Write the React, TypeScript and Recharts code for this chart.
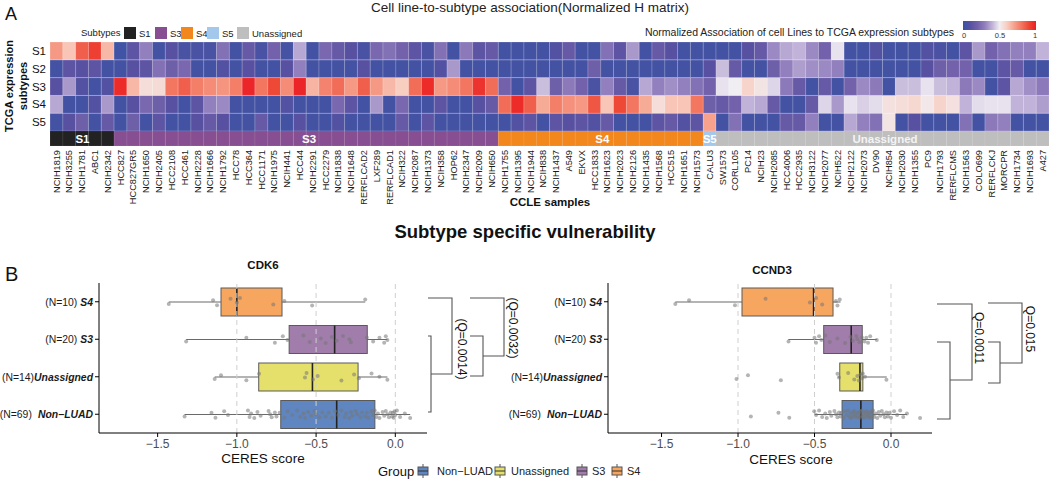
import React from 'react';
import {
  BarChart, Bar, Cell, XAxis, YAxis, ComposedChart, Scatter, ReferenceLine, LabelList,
} from 'recharts';

const FONT = '"Liberation Sans", Arial, Helvetica, sans-serif';

// ---------------- Heatmap data ----------------
const cellLines = [
  'NCIH1819', 'NCIH3255', 'NCIH1781', 'ABC1', 'NCIH2342',
  'HCC827', 'HCC827GR5', 'NCIH1650', 'NCIH2405', 'HCC2108', 'HCC461', 'NCIH2228', 'NCIH1666', 'NCIH1792', 'HCC78',
  'HCC364', 'HCC1171', 'NCIH1975', 'NCIH441', 'HCC44', 'NCIH2291', 'HCC2279', 'NCIH1838', 'NCIH1648', 'RERFLCAD2',
  'LXF289', 'RERFLCAD1', 'NCIH322', 'NCIH2087', 'NCIH1373', 'NCIH358', 'HOP62', 'NCIH2347', 'NCIH2009', 'NCIH650',
  'NCIH1755', 'NCIH1395', 'NCIH1944', 'NCIH838', 'NCIH1437', 'A549', 'EKVX', 'HCC1833', 'NCIH1623', 'NCIH2023',
  'NCIH2126', 'NCIH1435', 'NCIH1568', 'HCC515', 'NCIH1651', 'NCIH1573',
  'CALU3',
  'SW1573', 'CORL105', 'PC14', 'NCIH23', 'NCIH2085', 'HCC4006', 'HCC2935', 'NCIH3122', 'NCIH2077', 'NCIH522',
  'NCIH2122', 'NCIH2073', 'DV90', 'NCIH854', 'NCIH2030', 'NCIH1355', 'PC9', 'NCIH1793', 'RERFLCMS', 'NCIH1563',
  'COLO699', 'RERFLCKJ', 'MORCPR', 'NCIH1734', 'NCIH1693', 'A427',
];

const annoGroups = ['S1', 'S3', 'S4', 'S5', 'Unassigned'];
const annoCounts = [5, 30, 16, 1, 26];
const annoColors = ['#222222', '#874F91', '#F2871E', '#A3C8EB', '#BEBEBE'];

const rowLabels = ['S1', 'S2', 'S3', 'S4', 'S5'];

const hS1 = [
  0.72, 0.62, 0.85, 0.92, 0.65,
  0.02, 0.12, 0.30, 0.03, 0.10, 0.05, 0.05, 0.05, 0.25, 0.03,
  0.15, 0.05, 0.20, 0.04, 0.38, 0.03, 0.22, 0.15, 0.10, 0.05,
  0.22, 0.25, 0.20, 0.12, 0.05, 0.25, 0.03, 0.28, 0.12, 0.15,
  0.03, 0.03, 0.03, 0.03, 0.08, 0.15, 0.03, 0.03, 0.25, 0.12, 0.35, 0.03, 0.15, 0.10, 0.03, 0.03,
  0.03,
  0.03, 0.03, 0.10, 0.15, 0.32, 0.38, 0.40, 0.32, 0.20, 0.48,
  0.03, 0.03, 0.08, 0.03, 0.03, 0.03, 0.08, 0.06, 0.03, 0.12,
  0.35, 0.20, 0.25, 0.30, 0.30, 0.40,
];
const hS2 = [
  0.03, 0.12, 0.10, 0.12, 0.03,
  0.03, 0.10, 0.12, 0.25, 0.18, 0.22, 0.03, 0.03, 0.08, 0.03,
  0.10, 0.03, 0.03, 0.10, 0.30, 0.03, 0.03, 0.03, 0.03, 0.10,
  0.03, 0.03, 0.03, 0.03, 0.03, 0.08, 0.35, 0.03, 0.03, 0.03,
  0.03, 0.03, 0.03, 0.03, 0.03, 0.03, 0.03, 0.18, 0.03, 0.03, 0.03, 0.03, 0.03, 0.03, 0.03, 0.03,
  0.10,
  0.42, 0.15, 0.03, 0.03, 0.18, 0.30, 0.36, 0.33, 0.32, 0.30,
  0.03, 0.03, 0.03, 0.03, 0.03, 0.03, 0.10, 0.18, 0.20, 0.20,
  0.03, 0.03, 0.12, 0.15, 0.03, 0.03,
];
const hS3 = [
  0.10, 0.35, 0.08, 0.03, 0.08,
  0.97, 0.65, 0.55, 0.56, 0.80, 0.85, 0.78, 0.75, 0.73, 0.78,
  0.98, 0.80, 0.90, 0.75, 0.98, 0.66, 0.77, 0.82, 0.72, 0.85,
  0.72, 0.65, 0.60, 0.82, 0.97, 0.72, 0.75, 0.80, 0.95, 0.82,
  0.20, 0.03, 0.12, 0.42, 0.18, 0.28, 0.20, 0.05, 0.30, 0.15, 0.05, 0.38, 0.30, 0.33, 0.30, 0.25,
  0.20,
  0.48, 0.50, 0.58, 0.53, 0.46, 0.28, 0.15, 0.03, 0.15, 0.03,
  0.20, 0.32, 0.28, 0.03, 0.42, 0.42, 0.48, 0.42, 0.40, 0.28,
  0.32, 0.03, 0.12, 0.38, 0.33, 0.28,
];
const hS4 = [
  0.38, 0.03, 0.03, 0.08, 0.35,
  0.03, 0.10, 0.22, 0.18, 0.10, 0.03, 0.12, 0.30, 0.32, 0.03,
  0.03, 0.03, 0.03, 0.08, 0.03, 0.03, 0.03, 0.22, 0.12, 0.03,
  0.35, 0.03, 0.22, 0.03, 0.03, 0.12, 0.03, 0.03, 0.10, 0.15,
  0.82, 0.97, 0.85, 0.68, 0.78, 0.74, 0.72, 0.87, 0.62, 0.90, 0.80, 0.68, 0.55, 0.62, 0.62, 0.80,
  0.18,
  0.15, 0.20, 0.40, 0.38, 0.15, 0.03, 0.03, 0.15, 0.46, 0.35,
  0.48, 0.45, 0.47, 0.54, 0.55, 0.57, 0.52, 0.58, 0.54, 0.40,
  0.47, 0.48, 0.48, 0.40, 0.40, 0.36,
];
const hS5 = [
  0.03, 0.10, 0.18, 0.03, 0.15,
  0.03, 0.18, 0.03, 0.12, 0.03, 0.03, 0.10, 0.15, 0.10, 0.03,
  0.03, 0.15, 0.03, 0.03, 0.10, 0.03, 0.03, 0.08, 0.03, 0.03,
  0.03, 0.03, 0.15, 0.03, 0.12, 0.03, 0.03, 0.03, 0.03, 0.03,
  0.03, 0.08, 0.12, 0.03, 0.12, 0.10, 0.12, 0.08, 0.15, 0.03, 0.03, 0.03, 0.12, 0.15, 0.08, 0.12,
  0.70,
  0.03, 0.25, 0.03, 0.03, 0.03, 0.15, 0.15, 0.30, 0.03, 0.03,
  0.38, 0.30, 0.25, 0.53, 0.03, 0.10, 0.03, 0.03, 0.03, 0.25,
  0.03, 0.28, 0.30, 0.03, 0.03, 0.03,
];

// ---------------- Boxplot data ----------------
const groupNames = ['S4', 'S3', 'Unassigned', 'Non\u2212LUAD'];
const groupN = [10, 20, 14, 69];
const groupFill = ['#F6A65F', '#A17DAB', '#E4E06B', '#5F86C1'];

const cdk6Lo = [-1.43, -1.32, -1.14, -1.33];
const cdk6Q1 = [-1.10, -0.67, -0.862, -0.723];
const cdk6Med = [-1.0, -0.383, -0.523, -0.37];
const cdk6Q3 = [-0.715, -0.177, -0.235, -0.129];
const cdk6Hi = [-0.19, -0.05, -0.05, 0.094];

const cdk6S4 = [-1.43, -1.15, -1.125, -1.04, -1.0, -0.98, -0.77, -0.70, -0.525, -0.19];
const cdk6S3 = [-1.32, -0.94, -0.76, -0.71, -0.68, -0.58, -0.54, -0.47, -0.44, -0.40, -0.37, -0.33, -0.29, -0.28, -0.18, -0.14, -0.10, -0.07, -0.06, -0.05];
const cdk6Un = [-1.14, -1.10, -0.94, -0.86, -0.57, -0.56, -0.52, -0.49, -0.34, -0.26, -0.23, -0.15, -0.10, -0.05];
const cdk6Non = [
  -1.33, -1.16, -1.135, -1.08, -1.056, -0.93, -0.92, -0.91, -0.89, -0.87, -0.85, -0.80, -0.79, -0.78, -0.76, -0.75, -0.73,
  -0.70, -0.68, -0.65, -0.62, -0.60, -0.58, -0.57, -0.55, -0.53, -0.51, -0.50, -0.48, -0.46, -0.44, -0.42, -0.40, -0.38,
  -0.36, -0.34, -0.32, -0.31, -0.29, -0.28, -0.27, -0.25, -0.24, -0.22, -0.21, -0.19, -0.18, -0.17, -0.15, -0.14, -0.13,
  -0.12, -0.11, -0.10, -0.08, -0.07, -0.06, -0.05, -0.04, -0.03, -0.02, -0.015, -0.01, -0.005, 0.0, 0.01, 0.03, 0.06, 0.094,
];

const ccnd3Lo = [-1.41, -0.671, -0.346, -0.502];
const ccnd3Q1 = [-0.974, -0.44, -0.335, -0.32];
const ccnd3Med = [-0.506, -0.26, -0.203, -0.197];
const ccnd3Q3 = [-0.379, -0.188, -0.184, -0.117];
const ccnd3Hi = [-0.33, -0.093, -0.028, 0.104];

const ccnd3S4 = [-1.41, -1.32, -1.02, -0.82, -0.53, -0.49, -0.45, -0.36, -0.35, -0.335];
const ccnd3S3 = [-0.67, -0.50, -0.49, -0.47, -0.455, -0.43, -0.40, -0.35, -0.30, -0.264, -0.25, -0.227, -0.22, -0.205, -0.19, -0.173, -0.162, -0.15, -0.136, -0.093];
const ccnd3Un = [-1.01, -0.935, -0.72, -0.35, -0.34, -0.28, -0.24, -0.22, -0.21, -0.20, -0.19, -0.185, -0.17, -0.03];
const ccnd3Non = [
  -0.916, -0.736, -0.665, -0.502, -0.49, -0.47, -0.45, -0.43, -0.42, -0.40, -0.39, -0.37, -0.36, -0.35, -0.34, -0.33, -0.325,
  -0.31, -0.30, -0.29, -0.28, -0.27, -0.265, -0.26, -0.25, -0.245, -0.24, -0.235, -0.23, -0.22, -0.215, -0.21, -0.205, -0.20,
  -0.195, -0.19, -0.185, -0.18, -0.175, -0.17, -0.165, -0.16, -0.155, -0.15, -0.145, -0.14, -0.135, -0.13, -0.125, -0.12, -0.118,
  -0.11, -0.10, -0.09, -0.08, -0.07, -0.06, -0.05, -0.04, -0.03, -0.02, -0.01, 0.0, 0.02, 0.04, 0.06, 0.08, 0.104, 0.19,
];

// small vertical jitter offsets (fraction of a category band)
const JIT = [0.06, -0.04, 0.09, -0.08, 0.02, -0.1, 0.07, -0.02, 0.1, -0.06, 0.04, -0.09, 0.0, 0.08, -0.05];

const xTicks = [-1.5, -1.0, -0.5, 0.0];

// ---------------- helpers ----------------
const RAMP: [number, number[]][] = [
  [0, [58, 83, 164]], [0.1, [88, 81, 162]], [0.2, [115, 98, 171]], [0.3, [146, 127, 190]],
  [0.4, [192, 178, 216]], [0.5, [241, 238, 243]], [0.6, [248, 206, 193]], [0.7, [246, 162, 141]],
  [0.8, [242, 118, 96]], [0.9, [238, 72, 54]], [1, [236, 30, 36]],
];
function heatColor(v: number) {
  for (let i = 1; i < RAMP.length; i++) {
    if (v <= RAMP[i][0]) {
      const [a0, c0] = RAMP[i - 1];
      const [a1, c1] = RAMP[i];
      const t = (v - a0) / (a1 - a0);
      return `rgb(${c0.map((c, k) => Math.round(c + (c1[k] - c) * t)).join(',')})`;
    }
  }
  return `rgb(${RAMP[RAMP.length - 1][1].join(',')})`;
}

const heatRows = [hS1, hS2, hS3, hS4, hS5];
const heatTable = cellLines.map((name, i) => ({
  name, s1: hS1[i], s2: hS2[i], s3: hS3[i], s4: hS4[i], s5: hS5[i],
  u1: 1, u2: 1, u3: 1, u4: 1, u5: 1,
}));

const colGroup: number[] = [];
annoCounts.forEach((c, g) => { for (let k = 0; k < c; k++) colGroup.push(g); });
const groupStartIdx = annoCounts.map((_, g) => annoCounts.slice(0, g).reduce((a, b) => a + b, 0));
const annoTable = cellLines.map((name, i) => ({ name, grp: colGroup[i], a: 1 }));

function buildTable(lo: number[], q1: number[], med: number[], q3: number[], hi: number[]) {
  return groupNames.map((g, i) => ({
    group: g, wh: [lo[i], hi[i]], box: [q1[i], q3[i]], med: [q1[i], med[i]], fill: groupFill[i],
  }));
}
function buildPts(lists: number[][]) {
  const out: { v: number; j: number }[] = [];
  lists.forEach((arr, gi) => arr.forEach((v, k) => out.push({ v, j: gi + 0.5 + JIT[k % JIT.length] })));
  return out;
}

const cdk6Table = buildTable(cdk6Lo, cdk6Q1, cdk6Med, cdk6Q3, cdk6Hi);
const ccnd3Table = buildTable(ccnd3Lo, ccnd3Q1, ccnd3Med, ccnd3Q3, ccnd3Hi);
const cdk6Pts = buildPts([cdk6S4, cdk6S3, cdk6Un, cdk6Non]);
const ccnd3Pts = buildPts([ccnd3S4, ccnd3S3, ccnd3Un, ccnd3Non]);

const fmtTick = (v: number) => (v < 0 ? '\u2212' : '') + Math.abs(v).toFixed(1);

// ---------------- shapes & ticks ----------------
const ColTick = (p: any) => {
  const { x, y, payload } = p;
  return (
    <text x={x} y={y} transform={`rotate(-90, ${x}, ${y})`} textAnchor="end" dy="0.35em"
      fontSize={9.2} fill="#1a1a1a" fontFamily={FONT}>{payload.value}</text>
  );
};

const GroupLabel = (p: any) => {
  const vb = p.viewBox && p.viewBox.width !== undefined ? p.viewBox : p;
  const idx = cellLines.indexOf(p.value);
  const gi = groupStartIdx.indexOf(idx);
  if (gi < 0 || vb.x === undefined) return null;
  const cx = vb.x + (vb.width * annoCounts[gi]) / 2;
  const cy = vb.y + vb.height / 2;
  return (
    <text x={cx} y={cy} textAnchor="middle" dominantBaseline="central" fill={gi === 4 ? '#f4f4f4' : '#ffffff'}
      fontWeight="bold" fontSize={11.5} fontFamily={FONT}>{annoGroups[gi]}</text>
  );
};

const GroupTick = (p: any) => {
  const { x, y, payload } = p;
  const i = groupNames.indexOf(payload.value);
  const gap = i === 2 ? 0 : i === 3 ? 6 : 3;
  return (
    <text x={x} y={y} textAnchor="end" dominantBaseline="central" fontSize={10.4} fill="#1a1a1a" fontFamily={FONT}>
      <tspan>{`(N=${groupN[i]})`}</tspan>
      <tspan dx={gap} fontWeight="bold" fontStyle="italic">{payload.value}</tspan>
    </text>
  );
};

const WhiskerShape = (p: any) => {
  const { x, y, width, height } = p;
  const cy = y + height / 2;
  return <line x1={x} x2={x + width} y1={cy} y2={cy} stroke="#6a6a6a" strokeWidth={1.1} />;
};
const BoxShape = (p: any) => {
  const { x, y, width, height, payload } = p;
  return <rect x={x} y={y} width={width} height={height} fill={payload.fill} stroke="#5a5a5a" strokeWidth={1} />;
};
const MedShape = (p: any) => {
  const { x, y, width, height } = p;
  const mx = x + width;
  return <line x1={mx} x2={mx} y1={y} y2={y + height} stroke="#222" strokeWidth={1.6} />;
};
const PtShape = (p: any) => (
  <circle cx={p.cx} cy={p.cy} r={2} fill="#777" fillOpacity={0.55} />
);

function BoxPanel({ table, pts, domain, width, yw }: any) {
  return (
    <ComposedChart width={width} height={200} layout="vertical" data={table}
      margin={{ top: 10, right: 3, bottom: 0, left: 0 }} barGap={-28} barCategoryGap={0}>
      <XAxis type="number" domain={domain} allowDataOverflow ticks={xTicks} tickFormatter={fmtTick}
        height={40} stroke="#000" tickSize={4} tickMargin={2}
        tick={{ fill: '#4d4d4d', fontSize: 12, fontFamily: FONT }} />
      <YAxis yAxisId="cat" type="category" dataKey="group" width={yw} stroke="#000" tickSize={4} tickMargin={2}
        tick={<GroupTick />} interval={0} />
      <YAxis yAxisId="pts" type="number" dataKey="j" domain={[0, 4]} hide allowDataOverflow />
      {xTicks.slice(1).map((t) => (
        <ReferenceLine key={t} yAxisId="cat" x={t} stroke="#cfcfcf" strokeDasharray="5 4" strokeWidth={1} />
      ))}
      <Bar yAxisId="cat" dataKey="wh" barSize={28} shape={WhiskerShape} isAnimationActive={false} />
      <Bar yAxisId="cat" dataKey="box" barSize={28} shape={BoxShape} isAnimationActive={false} />
      <Bar yAxisId="cat" dataKey="med" barSize={28} shape={MedShape} isAnimationActive={false} />
      <Scatter yAxisId="pts" data={pts} dataKey="v" shape={PtShape} isAnimationActive={false} />
    </ComposedChart>
  );
}

const LegendKey = ({ x, y, fill }: any) => (
  <g>
    <line x1={x} x2={x} y1={y - 7} y2={y + 7} stroke="#555" />
    <rect x={x - 5} y={y - 4} width={10} height={8} fill={fill} stroke="#555" />
    <line x1={x - 5} x2={x + 5} y1={y} y2={y} stroke="#333" />
  </g>
);

const Bracket = ({ x0, x1, yTop, yMid, innerX, innerTop, innerBot }: any) => (
  <g stroke="#555" strokeWidth={1.1} fill="none">
    <polyline points={`${x0},${yTop} ${x1},${yTop} ${x1},${yMid} ${innerX},${yMid}`} />
    <polyline points={`${x0},${innerTop} ${innerX},${innerTop} ${innerX},${innerBot} ${x0},${innerBot}`} />
  </g>
);

export default function App() {
  return (
    <div style={{ position: 'absolute', left: 0, top: 0, width: 1050, height: 480, background: '#fff', overflow: 'hidden', fontFamily: FONT }}>
      {/* Heatmap */}
      <div style={{ position: 'absolute', left: 0, top: 42 }}>
        <BarChart width={1049} height={89} data={heatTable} margin={{ top: 0, right: 0, bottom: 0, left: 0 }}
          barCategoryGap={0} barGap={0}>
          <XAxis dataKey="name" hide />
          <YAxis type="number" domain={[0, 5]} ticks={[0.5, 1.5, 2.5, 3.5, 4.5]} interval={0}
            tickFormatter={(v: number) => rowLabels[4 - Math.floor(v)]} width={50}
            axisLine={false} tickLine={false} tickSize={0} tickMargin={4}
            tick={{ fontSize: 11.5, fill: '#111', fontFamily: FONT }} />
          {[5, 4, 3, 2, 1].map((r) => (
            <Bar key={r} dataKey={`u${r}`} stackId="h" isAnimationActive={false}
              stroke="#ffffff" strokeOpacity={0.35} strokeWidth={0.6}>
              {heatTable.map((d: any, i) => <Cell key={i} fill={heatColor(heatRows[r - 1][i])} />)}
            </Bar>
          ))}
        </BarChart>
      </div>

      {/* Annotation bar + column labels */}
      <div style={{ position: 'absolute', left: 0, top: 131 }}>
        <BarChart width={1049} height={75} data={annoTable} margin={{ top: 0, right: 0, bottom: 0, left: 50 }}
          barCategoryGap={0} barGap={0}>
          <XAxis dataKey="name" interval={0} height={60} tickLine={false} axisLine={false} tickSize={0} tickMargin={4}
            tick={<ColTick />} />
          <YAxis hide domain={[0, 1]} />
          <Bar dataKey="a" isAnimationActive={false} stroke="#ffffff" strokeOpacity={0.15} strokeWidth={0.6}>
            {annoTable.map((d, i) => <Cell key={i} fill={annoColors[d.grp]} />)}
            <LabelList dataKey="name" content={GroupLabel} />
          </Bar>
        </BarChart>
      </div>

      {/* Boxplots */}
      <div style={{ position: 'absolute', left: 0, top: 273 }}>
        <BoxPanel table={cdk6Table} pts={cdk6Pts} domain={[-1.87, 0.2]} width={430} yw={99} />
      </div>
      <div style={{ position: 'absolute', left: 500, top: 273 }}>
        <BoxPanel table={ccnd3Table} pts={ccnd3Pts} domain={[-1.85, 0.268]} width={435} yw={108} />
      </div>

      {/* Overlay texts, legends and brackets */}
      <svg width={1050} height={480} style={{ position: 'absolute', left: 0, top: 0, pointerEvents: 'none' }} fontFamily={FONT}>
        <defs>
          <linearGradient id="hg" x1="0" x2="1" y1="0" y2="0">
            {[0, 0.1, 0.2, 0.3, 0.4, 0.5, 0.6, 0.7, 0.8, 0.9, 1].map((s) => (
              <stop key={s} offset={s} stopColor={heatColor(s)} />
            ))}
          </linearGradient>
        </defs>
        <text x={5} y={20} fontSize={18} fill="#111">A</text>
        <text x={530} y={12} fontSize={13.5} textAnchor="middle" fill="#222">Cell line-to-subtype association(Normalized H matrix)</text>

        <text x={81} y={36} fontSize={9.5} fill="#222">Subtypes</text>
        {[124, 155, 181, 207, 237].map((x, g) => (
          <g key={g}>
            <rect x={x} y={27} width={12} height={12} fill={annoColors[g]} />
            <text x={x + 15} y={36.5} fontSize={9.5} fill="#222">{annoGroups[g]}</text>
          </g>
        ))}

        <text x={954} y={36} fontSize={10.5} textAnchor="end" fill="#222">Normalized Association of cell Lines to TCGA expression subtypes</text>
        <rect x={963} y={21} width={73} height={9} fill="url(#hg)" />
        <text x={964} y={38} fontSize={7.5} textAnchor="middle" fill="#333">0</text>
        <text x={1000} y={38} fontSize={7.5} textAnchor="middle" fill="#333">0.5</text>
        <text x={1035} y={38} fontSize={7.5} textAnchor="middle" fill="#333">1</text>

        <text transform="translate(9,86) rotate(-90)" textAnchor="middle" dominantBaseline="central" fontSize={11} fontWeight="bold" fill="#111">TCGA expression</text>
        <text transform="translate(23,86) rotate(-90)" textAnchor="middle" dominantBaseline="central" fontSize={11} fontWeight="bold" fill="#111">subtypes</text>

        <text x={550} y={206} fontSize={11.5} fontWeight="bold" textAnchor="middle" fill="#111">CCLE samples</text>
        <text x={525} y={238} fontSize={18.5} fontWeight="bold" textAnchor="middle" fill="#111">Subtype specific vulnerability</text>

        <text x={5} y={281} fontSize={20} fill="#111">B</text>
        <text x={263} y={269} fontSize={11.5} fontWeight="bold" textAnchor="middle" fill="#111">CDK6</text>
        <text x={772} y={274} fontSize={11.5} fontWeight="bold" textAnchor="middle" fill="#111">CCND3</text>

        <text x={263} y={463} fontSize={13.5} textAnchor="middle" fill="#111">CERES score</text>
        <text x={791} y={464} fontSize={13.5} textAnchor="middle" fill="#111">CERES score</text>

        {/* CDK6 brackets */}
        <Bracket x0={428} x1={452} yTop={298} yMid={374} innerX={431} innerTop={336} innerBot={412} />
        <Bracket x0={470} x1={504} yTop={298} yMid={356} innerX={483} innerTop={336} innerBot={376} />
        <text transform="translate(462,349) rotate(90)" textAnchor="middle" dominantBaseline="central" fontSize={12} fill="#111">(Q=0.0014)</text>
        <text transform="translate(513,328) rotate(90)" textAnchor="middle" dominantBaseline="central" fontSize={12} fill="#111">(Q=0.0032)</text>

        {/* CCND3 brackets */}
        <Bracket x0={937} x1={972} yTop={304} yMid={380} innerX={950} innerTop={342} innerBot={419} />
        <Bracket x0={988} x1={1022} yTop={303} yMid={363} innerX={1000} innerTop={342} innerBot={383} />
        <text transform="translate(979,338) rotate(90)" textAnchor="middle" dominantBaseline="central" fontSize={12} fill="#111">Q=0.0011</text>
        <text transform="translate(1030,329) rotate(90)" textAnchor="middle" dominantBaseline="central" fontSize={12} fill="#111">Q=0.015</text>

        {/* Group legend */}
        <text x={378} y={476} fontSize={13} fill="#111">Group</text>
        <LegendKey x={423} y={471} fill={groupFill[3]} />
        <text x={437} y={475} fontSize={11} fill="#222">Non{'\u2212'}LUAD</text>
        <LegendKey x={500} y={471} fill={groupFill[2]} />
        <text x={511} y={475} fontSize={11} fill="#222">Unassigned</text>
        <LegendKey x={582} y={471} fill={groupFill[1]} />
        <text x={592} y={475} fontSize={11} fill="#222">S3</text>
        <LegendKey x={617} y={471} fill={groupFill[0]} />
        <text x={627} y={475} fontSize={11} fill="#222">S4</text>
      </svg>
    </div>
  );
}
